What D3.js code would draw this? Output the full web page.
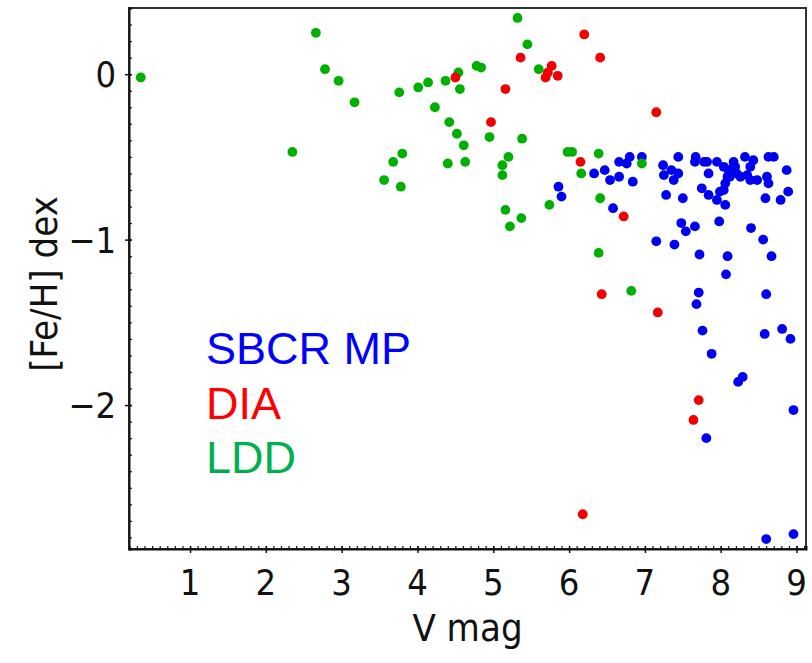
<!DOCTYPE html>
<html>
<head>
<meta charset="utf-8">
<script src="https://cdn.jsdelivr.net/npm/d3@7"></script>
<style>
  html, body { margin: 0; padding: 0; background: #fff; }
  svg { display: block; }
  .tick-label { font-family: "DejaVu Sans Condensed", "DejaVu Sans", sans-serif; font-stretch: condensed; font-size: 36px; fill: #111; }
  .axis-title { font-family: "DejaVu Sans Condensed", "DejaVu Sans", sans-serif; font-stretch: condensed; font-size: 38px; fill: #111; }
  .legend { font-family: "Liberation Sans", Arial, sans-serif; font-size: 45px; }
</style>
</head>
<body>
<svg id="chart" width="812" height="663"></svg>
<script>
// V magnitude and [Fe/H] for each sample
const sbcrVmag = [5.86, 5.90, 6.33, 6.47, 6.54, 6.66, 6.66, 6.80, 6.76, 6.96, 6.84, 6.58,
  7.24, 7.44, 7.25, 7.35, 7.44, 7.38, 7.28, 7.50, 7.67, 7.66, 7.78, 7.95, 7.84, 8.04,
  8.17, 8.11, 8.09, 8.06, 8.04, 7.75, 7.84, 7.95, 8.06, 8.32, 8.43, 8.39, 8.26, 8.39,
  8.63, 8.70, 8.61, 8.63, 8.87, 8.89, 8.79, 8.59, 8.15, 8.19, 8.12, 7.99, 8.21, 8.35,
  8.48, 7.82, 7.48, 7.54, 7.66, 7.98, 8.40, 8.56, 7.15, 7.39, 7.72, 8.09, 8.67, 8.07,
  7.71, 7.68, 8.60, 7.76, 8.58, 8.81, 8.92, 7.88, 8.29, 8.23, 7.81, 8.96, 8.60, 8.96];
const sbcrFeH = [-0.68, -0.74, -0.60, -0.58, -0.64, -0.62, -0.53, -0.50, -0.54, -0.50, -0.65, -0.81,
  -0.55, -0.50, -0.61, -0.58, -0.60, -0.64, -0.73, -0.75, -0.50, -0.53, -0.53, -0.53, -0.60, -0.56,
  -0.53, -0.59, -0.62, -0.66, -0.70, -0.69, -0.73, -0.76, -0.79, -0.50, -0.52, -0.56, -0.62, -0.64,
  -0.50, -0.50, -0.62, -0.66, -0.58, -0.71, -0.76, -0.75, -0.57, -0.56, -0.62, -0.71, -0.60, -0.61,
  -0.64, -0.53, -0.90, -0.95, -0.92, -0.89, -0.93, -1.00, -1.01, -1.03, -1.09, -1.10, -1.10, -1.21,
  -1.32, -1.39, -1.33, -1.55, -1.57, -1.54, -1.60, -1.69, -1.83, -1.86, -2.20, -2.03, -2.81, -2.78];

const diaVmag = [4.50, 6.20, 6.41, 5.36, 5.16, 5.77, 5.69, 5.85, 5.72, 7.15, 4.97, 6.15,
  6.72, 6.43, 7.17, 7.71, 7.64, 6.18];
const diaFeH = [-0.02, 0.24, 0.10, 0.10, -0.09, 0.05, -0.02, -0.01, 0.01, -0.23, -0.29, -0.53,
  -0.86, -1.33, -1.44, -1.97, -2.09, -2.66];

const lddVmag = [0.35, 2.66, 2.78, 2.96, 3.17, 2.35, 3.76, 4.01, 4.14, 4.37, 4.54, 4.56,
  4.23, 4.42, 4.52, 4.61, 4.40, 4.63, 3.80, 3.68, 3.56, 3.78, 5.32, 5.45, 4.78, 4.84,
  5.60, 4.95, 5.38, 5.20, 5.12, 5.12, 5.98, 6.04, 6.39, 6.16, 6.96, 5.16, 5.37, 5.22,
  5.74, 6.41, 6.39, 6.82];
const lddFeH = [-0.02, 0.25, 0.03, -0.04, -0.17, -0.47, -0.11, -0.08, -0.05, -0.04, 0.01, -0.09,
  -0.20, -0.29, -0.36, -0.43, -0.54, -0.53, -0.48, -0.53, -0.64, -0.68, 0.34, 0.18, 0.05, 0.04,
  0.03, -0.38, -0.39, -0.50, -0.55, -0.61, -0.47, -0.47, -0.48, -0.60, -0.54, -0.82, -0.87, -0.92,
  -0.79, -0.75, -1.08, -1.31];

const xDomain = [0.195, 9.125];
const yDomain = [-2.87, 0.40];
const xTickValues = [1, 2, 3, 4, 5, 6, 7, 8, 9];
const yTickValues = [0, -1, -2];
const legendLabels = ["SBCR MP", "DIA", "LDD"];
const colors = { sbcr: "#0000f0", dia: "#f00000", ldd: "#00b000" };
const legendColors = ["#0000ff", "#ff0000", "#00b050"];

const svg = d3.select("#chart");
const box = { left: 129, right: 806, top: 8, bottom: 549 };

const x = d3.scaleLinear().domain(xDomain).range([box.left, box.right]);
const y = d3.scaleLinear().domain(yDomain).range([box.bottom, box.top]);

// Frame: top and right edges
svg.append("rect")
  .attr("x", box.left).attr("y", box.top)
  .attr("width", box.right - box.left).attr("height", box.bottom - box.top)
  .attr("fill", "none").attr("stroke", "#333").attr("stroke-width", 2);

// Minor ticks every 0.1 pointing inward
const xMinor = d3.range(Math.ceil(xDomain[0] * 10), Math.floor(xDomain[1] * 10) + 1).map(v => v / 10);
const yMinor = d3.range(Math.ceil(yDomain[0] * 10), Math.floor(yDomain[1] * 10) + 1).map(v => v / 10);

const xAxis = d3.axisBottom(x).tickValues(xMinor).tickSize(-3).tickFormat("");
const yAxis = d3.axisLeft(y).tickValues(yMinor).tickSize(-3).tickFormat("");

const gx = svg.append("g").attr("transform", `translate(0,${box.bottom})`).call(xAxis);
const gy = svg.append("g").attr("transform", `translate(${box.left},0)`).call(yAxis);
[gx, gy].forEach(g => {
  g.select(".domain").attr("stroke", "#111").attr("stroke-width", 2);
  g.selectAll(".tick line").attr("stroke", "#111").attr("stroke-width", 1.2);
});

// Major ticks crossing the axis line
const xMajor = d3.axisBottom(x).tickValues(xTickValues).tickSize(4).tickFormat("");
const yMajor = d3.axisLeft(y).tickValues(yTickValues).tickSize(4).tickFormat("");
const gxM = svg.append("g").attr("transform", `translate(0,${box.bottom})`).call(xMajor);
const gyM = svg.append("g").attr("transform", `translate(${box.left},0)`).call(yMajor);
[gxM, gyM].forEach(g => {
  g.select(".domain").remove();
  g.selectAll(".tick line").attr("stroke", "#111").attr("stroke-width", 1.5);
});
gxM.selectAll(".tick line").attr("y1", -3);
gyM.selectAll(".tick line").attr("x1", 3);

// Tick labels
svg.append("g").selectAll("text").data(xTickValues).join("text")
  .attr("class", "tick-label")
  .attr("x", d => x(d)).attr("y", 595)
  .attr("text-anchor", "middle")
  .text(d => d3.format("d")(d));

svg.append("g").selectAll("text").data(yTickValues).join("text")
  .attr("class", "tick-label")
  .attr("x", 116).attr("y", d => y(d) + 13)
  .attr("text-anchor", "end")
  .text(d => d === 0 ? "0" : "\u2212" + Math.abs(d));

// Axis titles
svg.append("text").attr("class", "axis-title")
  .attr("x", (box.left + box.right) / 2).attr("y", 641)
  .attr("text-anchor", "middle").text("V mag");

svg.append("text").attr("class", "axis-title")
  .attr("transform", `translate(57,284) rotate(-90)`)
  .attr("text-anchor", "middle").text("[Fe/H] dex");

// Points: SBCR MP underneath, then LDD, then DIA on top
function drawSeries(vmag, feh, color) {
  svg.append("g").selectAll("circle").data(d3.zip(vmag, feh)).join("circle")
    .attr("cx", d => x(d[0])).attr("cy", d => y(d[1]))
    .attr("r", 4.9).attr("fill", color);
}
drawSeries(sbcrVmag, sbcrFeH, colors.sbcr);
drawSeries(lddVmag, lddFeH, colors.ldd);
drawSeries(diaVmag, diaFeH, colors.dia);

// Legend
const legendY = [364, 419, 473];
svg.append("g").selectAll("text").data(legendLabels).join("text")
  .attr("class", "legend")
  .attr("x", 206).attr("y", (d, i) => legendY[i])
  .attr("fill", (d, i) => legendColors[i])
  .text(d => d);
</script>
</body>
</html>
